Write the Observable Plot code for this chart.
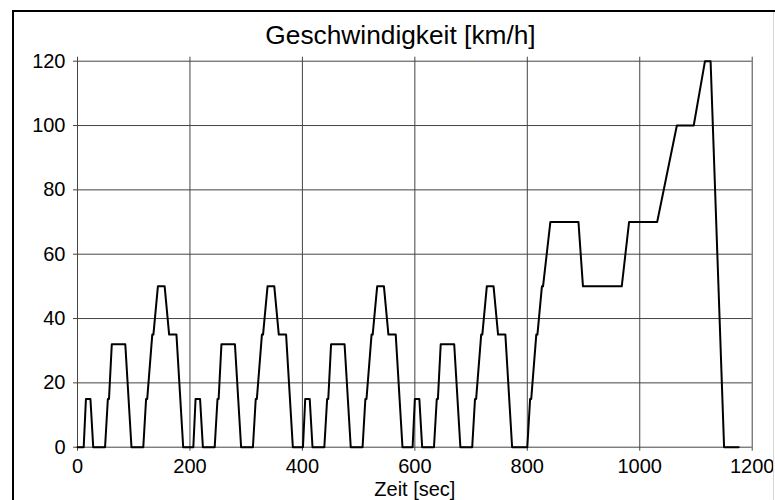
<!DOCTYPE html>
<html>
<head>
<meta charset="utf-8">
<script src="https://cdn.jsdelivr.net/npm/d3@7"></script>
<script src="https://cdn.jsdelivr.net/npm/@observablehq/plot@0.6"></script>
<style>
  html, body { margin: 0; padding: 0; background: #fff; }
  #page { position: relative; width: 775px; height: 500px; overflow: hidden; background: #fff;
          font-family: "Liberation Sans", Arial, sans-serif; }
  .edge { position: absolute; }
  #title { position: absolute; left: 13px; width: 775px; top: 22px; text-align: center;
           font-size: 26.3px; line-height: 26px; color: #000; }
  #chart { position: absolute; left: 0; top: 50px; }
</style>
</head>
<body>
<div id="page">
  <div id="chart"></div>
  <div id="title">Geschwindigkeit [km/h]</div>
  <div class="edge" style="left:12px;top:10px;width:2px;height:490px;background:#000"></div>
  <div class="edge" style="left:12px;top:10px;width:763px;height:2px;background:#000"></div>
  <div class="edge" style="left:773px;top:12px;width:1px;height:488px;background:#d6d6d6"></div>
</div>
<script>
// Breakpoints of the speed profile: time in seconds, speed in km/h
const zeit = [
  0, 11, 15, 23, 28, 49, 54, 56, 61, 85, 96, 117, 122, 124, 133, 135, 143, 155, 163, 176, 188,
  206, 210, 218, 223, 244, 249, 251, 256, 280, 291, 312, 317, 319, 328, 330, 338, 350, 358, 371, 383,
  401, 405, 413, 418, 439, 444, 446, 451, 475, 486, 507, 512, 514, 523, 525, 533, 545, 553, 566, 578,
  596, 600, 608, 613, 634, 639, 641, 646, 670, 681, 702, 707, 709, 718, 720, 728, 740, 748, 761, 773,
  800, 805, 807, 816, 818, 826, 828, 841, 891, 899, 968, 981, 1031, 1066, 1096, 1116, 1126, 1150, 1176
];
const geschwindigkeit = [
  0, 0, 15, 15, 0, 0, 15, 15, 32, 32, 0, 0, 15, 15, 35, 35, 50, 50, 35, 35, 0,
  0, 15, 15, 0, 0, 15, 15, 32, 32, 0, 0, 15, 15, 35, 35, 50, 50, 35, 35, 0,
  0, 15, 15, 0, 0, 15, 15, 32, 32, 0, 0, 15, 15, 35, 35, 50, 50, 35, 35, 0,
  0, 15, 15, 0, 0, 15, 15, 32, 32, 0, 0, 15, 15, 35, 35, 50, 50, 35, 35, 0,
  0, 15, 15, 35, 35, 50, 50, 70, 70, 50, 50, 70, 70, 100, 100, 120, 120, 0, 0
];
const xTicks = [0, 200, 400, 600, 800, 1000, 1200];
const yTicks = [0, 20, 40, 60, 80, 100, 120];
const xLabel = "Zeit [sec]";

const profil = zeit.map((t, i) => ({t, v: geschwindigkeit[i]}));

const chart = Plot.plot({
  width: 775,
  height: 450,
  marginLeft: 77,
  marginRight: 23.3,
  marginTop: 10.7,
  marginBottom: 53.3,
  style: {fontFamily: '"Liberation Sans", Arial, sans-serif', fontSize: "20px", color: "#000", background: "transparent"},
  x: {domain: [0, 1200], ticks: xTicks, tickFormat: d => String(d), tickSize: 0, tickPadding: 11.5, label: null},
  y: {domain: [0, 120], ticks: yTicks, tickFormat: d => String(d), tickSize: 0, tickPadding: 12, label: null},
  marks: [
    Plot.ruleX(xTicks, {stroke: "#444", strokeWidth: 1, insetTop: -4, insetBottom: -4}),
    Plot.ruleY(yTicks, {stroke: "#444", strokeWidth: 1, insetLeft: -4}),
    Plot.line(profil, {x: "t", y: "v", stroke: "#000", strokeWidth: 2}),
    Plot.text([xLabel], {text: d => d, frameAnchor: "bottom", lineAnchor: "bottom", dy: 48.5, fontSize: 20, fill: "#000"})
  ]
});
document.getElementById("chart").appendChild(chart);
</script>
</body>
</html>
